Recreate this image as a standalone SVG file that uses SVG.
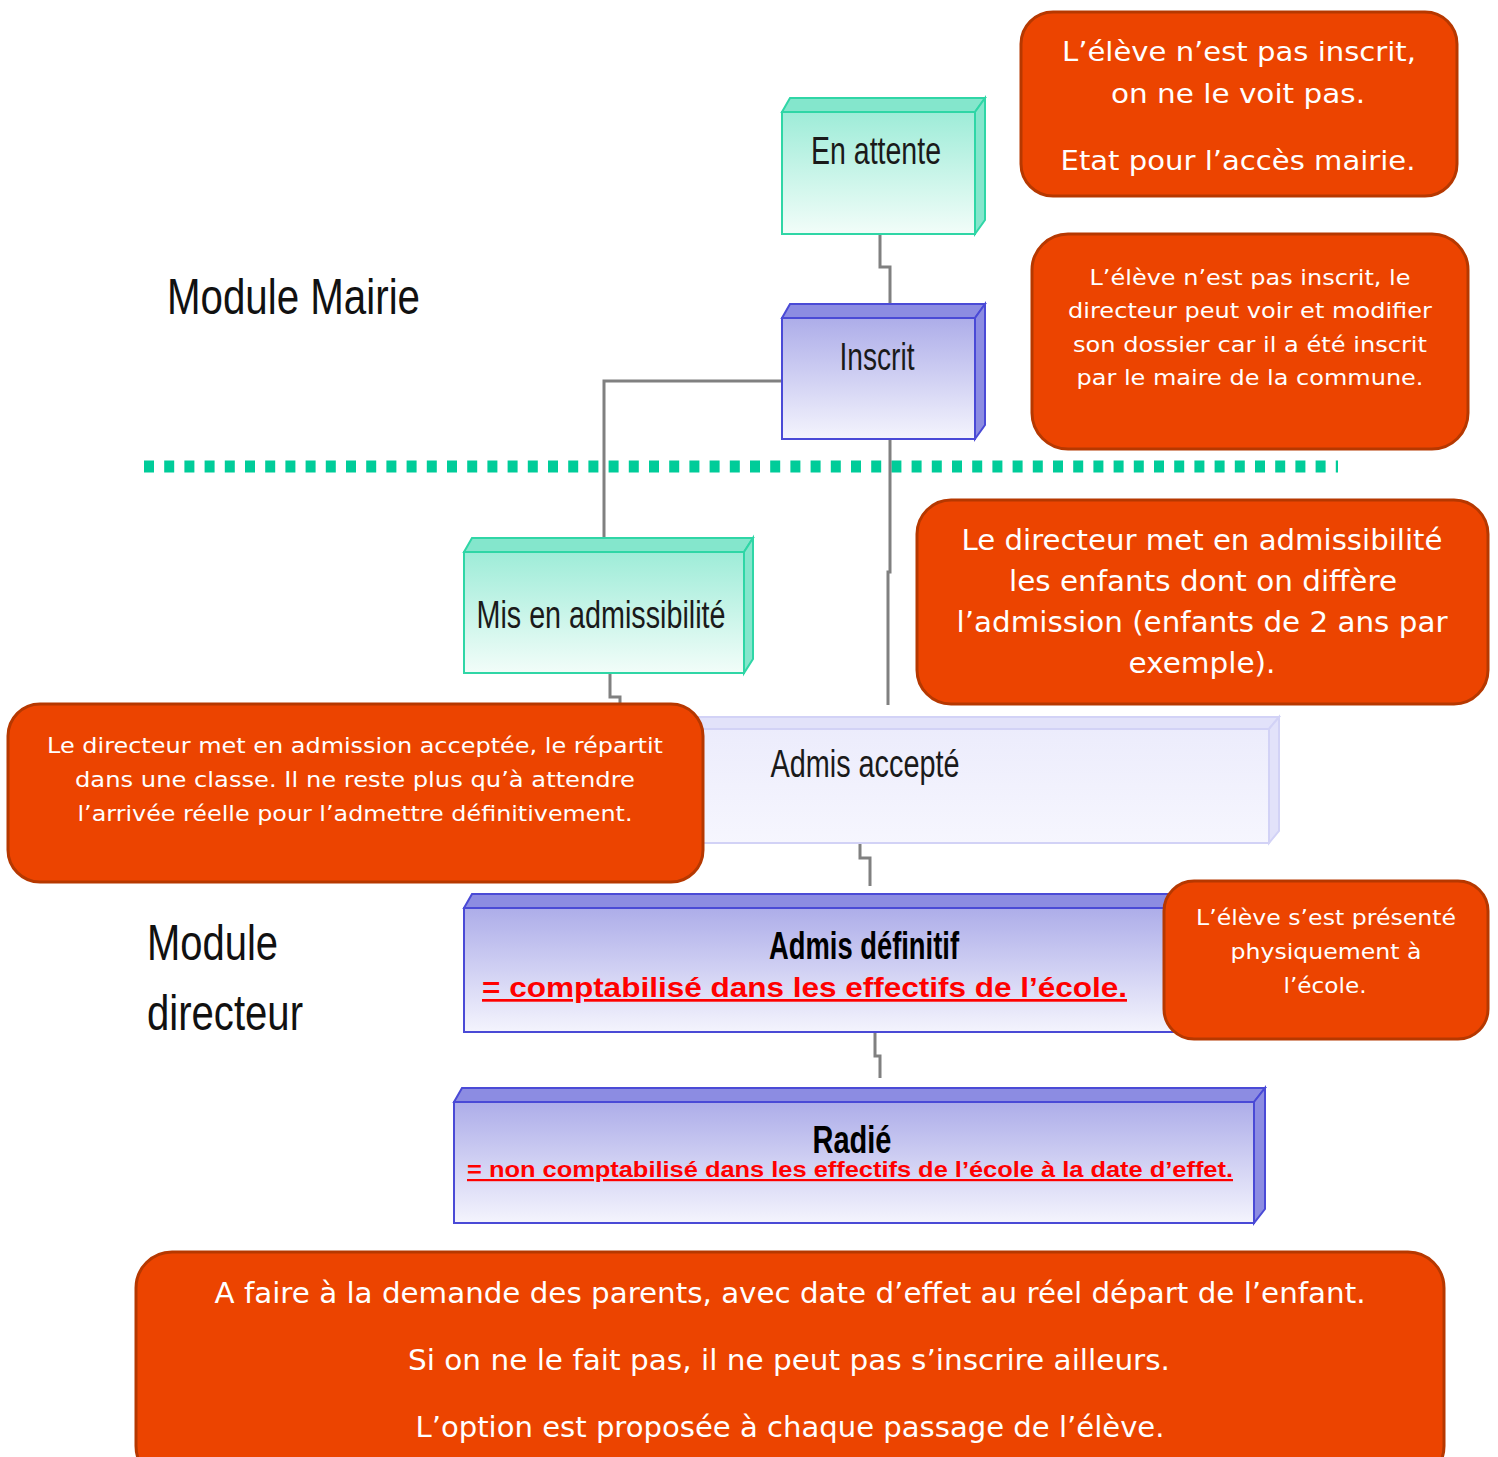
<svg xmlns="http://www.w3.org/2000/svg" width="1498" height="1457" viewBox="0 0 1498 1457">
<defs>
<linearGradient id="gTeal" x1="0" y1="0" x2="0" y2="1"><stop offset="0" stop-color="#9eecd8"/><stop offset="1" stop-color="#f2fdf9"/></linearGradient>
<linearGradient id="gBlue" x1="0" y1="0" x2="0" y2="1"><stop offset="0" stop-color="#adade9"/><stop offset="1" stop-color="#f4f4fd"/></linearGradient>
<linearGradient id="gPale" x1="0" y1="0" x2="0" y2="1"><stop offset="0" stop-color="#ececfc"/><stop offset="1" stop-color="#f6f6fe"/></linearGradient>
<style>
.teal .front{fill:url(#gTeal);stroke:#2fd6a6;stroke-width:2}
.teal .face{fill:#84e6cc;stroke:#2fd6a6;stroke-width:2}
.blue .front{fill:url(#gBlue);stroke:#4a4ad6;stroke-width:2}
.blue .face{fill:#8c8ce2;stroke:#4a4ad6;stroke-width:2}
.pale .front{fill:url(#gPale);stroke:#d2d2f6;stroke-width:2}
.pale .face{fill:#e2e2fa;stroke:#d2d2f6;stroke-width:2}
.lbl{font-family:"Liberation Sans",Arial,sans-serif;fill:#1a1a1a;font-size:38px;text-anchor:middle}
.bold{font-weight:bold;fill:#000}
.red{font-family:"Liberation Sans",Arial,sans-serif;font-weight:bold;fill:#ff0000;text-decoration:underline}
.mod{font-family:"Liberation Sans",Arial,sans-serif;fill:#111;font-size:50px}
.call rect{fill:#ec4400;stroke:#b63800;stroke-width:3}
.call text{font-family:"DejaVu Sans",Verdana,sans-serif;fill:#fff;text-anchor:middle}
.conn{fill:none;stroke:#808080;stroke-width:3}
</style>
</defs>
<rect width="1498" height="1457" fill="#fff"/>

<!-- separator -->
<line x1="144" y1="466.5" x2="1338" y2="466.5" stroke="#00cc99" stroke-width="12" stroke-dasharray="10 10.2"/>

<!-- connectors -->
<g id="connectors">
<path class="conn" d="M880,234 V267 H890 V304"/>
<path class="conn" d="M782,381 H604 V553"/>
<path class="conn" d="M890,439 V572 H888 V705"/>
<path class="conn" d="M610,673 V697 H620 V704"/>
<path class="conn" d="M860,838 V858 H870 V886"/>
<path class="conn" d="M875,1032 V1056 H880 V1078"/>
</g>

<g id="lbl-mairie"><text class="mod" x="167" y="314" textLength="253" lengthAdjust="spacingAndGlyphs">Module Mairie</text></g>
<g id="lbl-directeur">
<text class="mod" x="147" y="960" textLength="131" lengthAdjust="spacingAndGlyphs">Module</text>
<text class="mod" x="147" y="1030" textLength="156" lengthAdjust="spacingAndGlyphs">directeur</text>
</g>

<g id="en-attente" class="teal">
<polygon class="face" points="782,112 790,98 985,98 975,112"/>
<polygon class="face" points="975,112 985,98 985,220 975,234"/>
<rect class="front" x="782" y="112" width="193" height="122"/>
<text class="lbl" x="876" y="164" textLength="130" lengthAdjust="spacingAndGlyphs">En attente</text>
</g>

<g id="inscrit" class="blue">
<polygon class="face" points="782,318 790,304 985,304 975,318"/>
<polygon class="face" points="975,318 985,304 985,425 975,439"/>
<rect class="front" x="782" y="318" width="193" height="121"/>
<text class="lbl" x="877" y="370" textLength="75" lengthAdjust="spacingAndGlyphs">Inscrit</text>
</g>

<g id="mis-admissibilite" class="teal">
<polygon class="face" points="464,552 472,538 753,538 744,552"/>
<polygon class="face" points="744,552 753,538 753,659 744,673"/>
<rect class="front" x="464" y="552" width="280" height="121"/>
<text class="lbl" x="601" y="628" textLength="249" lengthAdjust="spacingAndGlyphs">Mis en admissibilité</text>
</g>

<g id="admis-accepte" class="pale">
<polygon class="face" points="600,729 608,717 1279,717 1269,729"/>
<polygon class="face" points="1269,729 1279,717 1279,831 1269,843"/>
<rect class="front" x="600" y="729" width="669" height="114"/>
<text class="lbl" x="865" y="777" textLength="189" lengthAdjust="spacingAndGlyphs">Admis accepté</text>
</g>

<g id="admis-definitif" class="blue">
<polygon class="face" points="464,908 472,894 1195,894 1185,908"/>
<polygon class="face" points="1185,908 1195,894 1195,1018 1185,1032"/>
<rect class="front" x="464" y="908" width="721" height="124"/>
<text class="lbl bold" x="864" y="959" textLength="190" lengthAdjust="spacingAndGlyphs">Admis définitif</text>
<text class="red" x="482" y="997" font-size="27" textLength="645" lengthAdjust="spacingAndGlyphs">= comptabilisé dans les effectifs de l’école.</text>
</g>

<g id="radie" class="blue">
<polygon class="face" points="454,1102 462,1088 1265,1088 1254,1102"/>
<polygon class="face" points="1254,1102 1265,1088 1265,1209 1254,1223"/>
<rect class="front" x="454" y="1102" width="800" height="121"/>
<text class="lbl bold" x="852" y="1153" textLength="79" lengthAdjust="spacingAndGlyphs">Radié</text>
<text class="red" x="467" y="1177" font-size="22" textLength="766" lengthAdjust="spacingAndGlyphs">= non comptabilisé dans les effectifs de l’école à la date d’effet.</text>
</g>

<g id="note-attente" class="call">
<rect x="1021" y="12" width="436" height="184" rx="32"/>
<text x="1239" y="61" font-size="27" textLength="354" lengthAdjust="spacingAndGlyphs">L’élève n’est pas inscrit,</text>
<text x="1238" y="103" font-size="27" textLength="254" lengthAdjust="spacingAndGlyphs">on ne le voit pas.</text>
<text x="1238" y="170" font-size="27" textLength="355" lengthAdjust="spacingAndGlyphs">Etat pour l’accès mairie.</text>
</g>

<g id="note-inscrit" class="call">
<rect x="1032" y="234" width="436" height="215" rx="36"/>
<text x="1250" y="285" font-size="22" textLength="321" lengthAdjust="spacingAndGlyphs">L’élève n’est pas inscrit, le</text>
<text x="1250" y="318" font-size="22" textLength="364" lengthAdjust="spacingAndGlyphs">directeur peut voir et modifier</text>
<text x="1250" y="352" font-size="22" textLength="354" lengthAdjust="spacingAndGlyphs">son dossier car il a été inscrit</text>
<text x="1250" y="385" font-size="22" textLength="347" lengthAdjust="spacingAndGlyphs">par le maire de la commune.</text>
</g>

<g id="note-admissibilite" class="call">
<rect x="917" y="500" width="571" height="204" rx="34"/>
<text x="1202" y="550" font-size="28" textLength="481" lengthAdjust="spacingAndGlyphs">Le directeur met en admissibilité</text>
<text x="1203" y="591" font-size="28" textLength="388" lengthAdjust="spacingAndGlyphs">les enfants dont on diffère</text>
<text x="1202" y="632" font-size="28" textLength="491" lengthAdjust="spacingAndGlyphs">l’admission (enfants de 2 ans par</text>
<text x="1202" y="673" font-size="28" textLength="147" lengthAdjust="spacingAndGlyphs">exemple).</text>
</g>

<g id="note-accepte" class="call">
<rect x="8" y="704" width="695" height="178" rx="32"/>
<text x="355" y="753" font-size="22" textLength="616" lengthAdjust="spacingAndGlyphs">Le directeur met en admission acceptée, le répartit</text>
<text x="355" y="787" font-size="22" textLength="560" lengthAdjust="spacingAndGlyphs">dans une classe. Il ne reste plus qu’à attendre</text>
<text x="355" y="821" font-size="22" textLength="555" lengthAdjust="spacingAndGlyphs">l’arrivée réelle pour l’admettre définitivement.</text>
</g>

<g id="note-definitif" class="call">
<rect x="1164" y="881" width="324" height="158" rx="30"/>
<text x="1326" y="925" font-size="22" textLength="260" lengthAdjust="spacingAndGlyphs">L’élève s’est présenté</text>
<text x="1326" y="959" font-size="22" textLength="191" lengthAdjust="spacingAndGlyphs">physiquement à</text>
<text x="1325" y="993" font-size="22" textLength="83" lengthAdjust="spacingAndGlyphs">l’école.</text>
</g>

<g id="note-radie" class="call">
<rect x="136" y="1252" width="1308" height="230" rx="36"/>
<text x="790" y="1303" font-size="28" textLength="1151" lengthAdjust="spacingAndGlyphs">A faire à la demande des parents, avec date d’effet au réel départ de l’enfant.</text>
<text x="789" y="1370" font-size="28" textLength="762" lengthAdjust="spacingAndGlyphs">Si on ne le fait pas, il ne peut pas s’inscrire ailleurs.</text>
<text x="790" y="1437" font-size="28" textLength="749" lengthAdjust="spacingAndGlyphs">L’option est proposée à chaque passage de l’élève.</text>
</g>
</svg>
